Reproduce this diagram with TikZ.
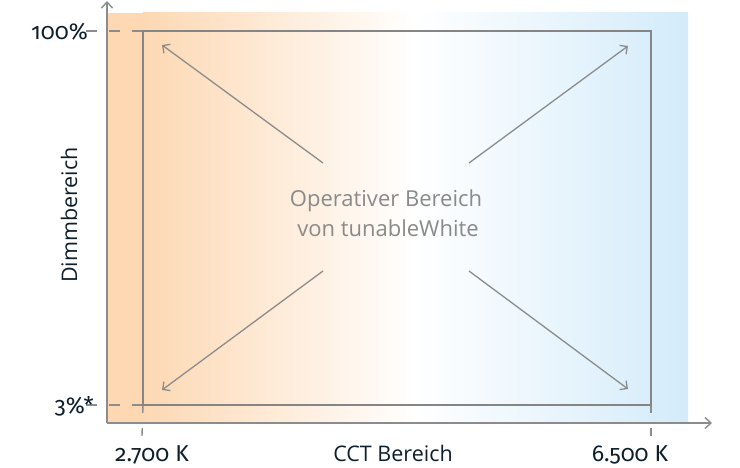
\documentclass[tikz,border=0pt]{standalone}
\usepackage{fontspec}
\setmainfont{Fira Sans}[Numbers=OldStyle]
\newfontfamily\innerfont{Open Sans}
\usetikzlibrary{arrows.meta}
\definecolor{axisgray}{HTML}{8C8C8C}
\definecolor{boxgray}{HTML}{858585}
\definecolor{labelnavy}{HTML}{0E1F2C}
\definecolor{textgray}{HTML}{8A8A8A}
\definecolor{warm}{HTML}{FDD8B3}
\definecolor{cool}{HTML}{D3EBFA}
\begin{document}
\begin{tikzpicture}[x=1pt,y=-1pt,
  axisline/.style={draw=axisgray,line width=1.4pt,-{Straight Barb[length=6pt,width=11pt,line width=1.4pt]}},
  boxline/.style={draw=boxgray,line width=2.8pt},
  tickline/.style={draw=axisgray,line width=1.4pt,dash pattern=on 11pt off 12pt},
  vtickline/.style={draw=axisgray,line width=1.4pt,dash pattern=on 8pt off 15pt},
  diagarrow/.style={draw=axisgray,line width=1.3pt,-{Straight Barb[length=5.5pt,width=11pt,line width=1.3pt]}},
  numlabel/.style={text=labelnavy,font=\fontsize{23}{26}\selectfont,inner sep=0pt},
  axislabel/.style={text=labelnavy,font=\innerfont\fontsize{21.5}{26}\selectfont,inner sep=0pt},
  innerlabel/.style={text=textgray,font=\innerfont\fontsize{22}{26}\selectfont,inner sep=0pt}
]
\useasboundingbox (0,0) rectangle (740,468);
% background gradient
\fill[warm] (107,13) rectangle (143,423);
\shade[left color=warm,right color=cool,middle color=white] (143,13) rectangle (688,423);
% corners
\coordinate (o) at (107,423);
\coordinate (ytip) at (107,1);
\coordinate (xtip) at (712,423);
\coordinate (tl) at (143,31);
\coordinate (tr) at (651,31);
\coordinate (br) at (651,405);
\coordinate (bl) at (143,405);
% tick dashes
\coordinate (t100) at (86,31);
\coordinate (t3) at (86,405);
\coordinate (tk1) at (142,436);
\coordinate (tk2) at (651,436);
\draw[tickline] (tl) -- (t100);
\draw[tickline] (bl) -- (t3);
\draw[vtickline] (bl) -- (tk1);
\draw[vtickline] (br) -- (tk2);
% axes
\draw[axisline] (o) -- (ytip);
\draw[axisline] (o) -- (xtip);
% operating box
\draw[boxline] (tl) -- (tr) -- (br) -- (bl) -- cycle;
% diagonal arrows
\coordinate (s1) at (323,163);
\coordinate (s2) at (469,163);
\coordinate (s3) at (323,271);
\coordinate (s4) at (469,271);
\coordinate (e1) at (162,45);
\coordinate (e2) at (628,46);
\coordinate (e3) at (162,390);
\coordinate (e4) at (628,389);
\draw[diagarrow] (s1) -- (e1);
\draw[diagarrow] (s2) -- (e2);
\draw[diagarrow] (s3) -- (e3);
\draw[diagarrow] (s4) -- (e4);
% labels
\node[numlabel,anchor=base east] (l100) at (88,40) {100\%};
\node[numlabel,anchor=base east] (l3) at (94,413) {3\%*};
\node[numlabel,anchor=base] (lk1) at (152,461) {2.700 K};
\node[numlabel,anchor=base] (lk2) at (630,461) {6.500 K};
\node[axislabel,anchor=base] (lcct) at (393,461) {CCT Bereich};
\node[axislabel,rotate=90,anchor=base] (ldim) at (77,215) {Dimmbereich};
\node[innerlabel,anchor=base] (lop1) at (386,207) {Operativer Bereich};
\node[innerlabel,anchor=base] (lop2) at (388,237) {von tunableWhite};
\end{tikzpicture}
\end{document}
